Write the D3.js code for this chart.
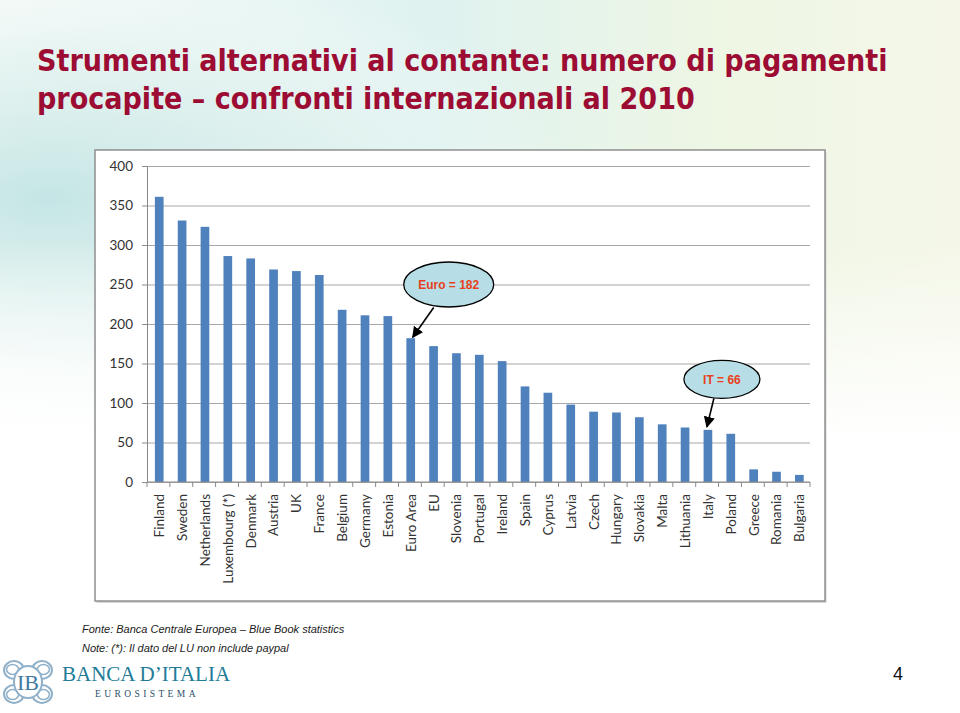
<!DOCTYPE html>
<html>
<head>
<meta charset="utf-8">
<script src="https://cdn.jsdelivr.net/npm/d3@7/dist/d3.min.js"></script>
<style>
  html, body { margin: 0; padding: 0; background: #ffffff; }
  svg { display: block; }
</style>
</head>
<body>
<svg id="chart" width="960" height="713"></svg>
<script>
// ---- Data ----
const categories = ["Finland","Sweden","Netherlands","Luxembourg (*)","Denmark","Austria","UK","France","Belgium","Germany","Estonia","Euro Area","EU","Slovenia","Portugal","Ireland","Spain","Cyprus","Latvia","Czech","Hungary","Slovakia","Malta","Lithuania","Italy","Poland","Greece","Romania","Bulgaria"];
const values = [361,331,323,286,283,269,267,262,218,211,210,182,172,163,161,153,121,113,98,89,88,82,73,69,66,61,16,13,9];
const yTicks = [0,50,100,150,200,250,300,350,400];
const titleLines = ["Strumenti alternativi al contante: numero di pagamenti", "procapite \u2013 confronti internazionali al 2010"];
const calloutCategories = ["Euro Area", "Italy"];
const calloutLabels = ["Euro = 182", "IT = 66"];
const calloutLevels = [250, 130];
const footnotes = ["Fonte: Banca Centrale Europea \u2013 Blue Book statistics", "Note: (*): Il dato del LU non include paypal"];

const svg = d3.select("#chart");
const W = 960, H = 713;

// ---- Background (slide) ----
const defs = svg.append("defs");
const gLeft = defs.append("radialGradient").attr("id","bgL").attr("cx","0.05").attr("cy","0.45").attr("r","0.55");
gLeft.append("stop").attr("offset","0").attr("stop-color","#bfe3e3").attr("stop-opacity",0.9);
gLeft.append("stop").attr("offset","0.6").attr("stop-color","#dff1ee").attr("stop-opacity",0.6);
gLeft.append("stop").attr("offset","1").attr("stop-color","#ffffff").attr("stop-opacity",0);
const gTop = defs.append("linearGradient").attr("id","bgT").attr("x1","0").attr("x2","1").attr("y1","0").attr("y2","0");
gTop.append("stop").attr("offset","0").attr("stop-color","#f4faf8");
gTop.append("stop").attr("offset","0.45").attr("stop-color","#dff2f0");
gTop.append("stop").attr("offset","0.75").attr("stop-color","#eef6e4");
gTop.append("stop").attr("offset","1").attr("stop-color","#f4f7e8");
const gFade = defs.append("linearGradient").attr("id","bgFade").attr("x1","0").attr("x2","0").attr("y1","0").attr("y2","1");
gFade.append("stop").attr("offset","0").attr("stop-color","#fff").attr("stop-opacity",0);
gFade.append("stop").attr("offset","0.55").attr("stop-color","#fff").attr("stop-opacity",0);
gFade.append("stop").attr("offset","1").attr("stop-color","#fff").attr("stop-opacity",1);

svg.append("rect").attr("width",W).attr("height",H).attr("fill","#ffffff");
svg.append("rect").attr("x",0).attr("y",0).attr("width",W).attr("height",440).attr("fill","url(#bgT)");
svg.append("rect").attr("x",0).attr("y",0).attr("width",W).attr("height",440).attr("fill","url(#bgL)");
svg.append("rect").attr("x",0).attr("y",0).attr("width",W).attr("height",440).attr("fill","url(#bgFade)");

// ---- Title (font size fitted to the reference width) ----
const titleG = svg.append("g");
const titleTarget = 851;
const tmp = titleG.append("text")
  .style("font-family", "'Liberation Sans Narrow','DejaVu Sans Condensed','DejaVu Sans',sans-serif")
  .style("font-size","100px").style("font-weight","bold")
  .text(titleLines[0]);
const natural = tmp.node().getComputedTextLength();
tmp.remove();
const titleSize = Math.min(36, 100 * titleTarget / natural);
titleLines.forEach((t, i) => {
  titleG.append("text")
    .attr("x", 37).attr("y", 71 + i * 38)
    .style("font-family", "'Liberation Sans Narrow','DejaVu Sans Condensed','DejaVu Sans',sans-serif")
    .style("font-size", titleSize + "px").style("font-weight","bold")
    .style("fill","#9c0c33")
    .text(t);
});

// ---- Chart frame ----
svg.append("rect").attr("x",96.5).attr("y",152).attr("width",730).attr("height",451).attr("fill","#d6d6d6");
svg.append("rect").attr("x",95).attr("y",150).attr("width",730).attr("height",451)
  .attr("fill","#ffffff").attr("stroke","#8f8f8f").attr("stroke-width",1.5);

// ---- Scales ----
const plot = {left:147, right:810, top:166, bottom:482};
const x = d3.scaleBand().domain(categories).range([plot.left, plot.right]).paddingInner(0.62).paddingOuter(0.31);
const y = d3.scaleLinear().domain([0,400]).range([plot.bottom, plot.top]);

// gridlines
const g = svg.append("g");
g.append("g").attr("class","grid")
  .attr("transform",`translate(${plot.left},0)`)
  .call(d3.axisLeft(y).tickValues(yTicks).tickSize(-(plot.right-plot.left)).tickFormat(""))
  .call(s => s.select(".domain").remove())
  .call(s => s.selectAll("line").attr("stroke","#a8a8a8").attr("stroke-width",1.2));

// y axis
g.append("g")
  .attr("transform",`translate(${plot.left},0)`)
  .call(d3.axisLeft(y).tickValues(yTicks).tickSize(5).tickPadding(9))
  .call(s => s.select(".domain").attr("stroke","#8a8a8a"))
  .call(s => s.selectAll("line").attr("stroke","#8a8a8a"))
  .call(s => s.selectAll("text").style("font-family","Lato, 'Open Sans', sans-serif").style("font-size","13.5px").attr("fill","#333"));

// bars
g.append("g").selectAll("rect").data(values).join("rect")
  .attr("x",(d,i)=>x(categories[i]) + 0.8)
  .attr("y",d=>y(d))
  .attr("width",x.bandwidth())
  .attr("height",d=>y(0)-y(d))
  .attr("fill","#4f81bd");

// x axis line and ticks at band boundaries
const xAxisG = g.append("g");
xAxisG.append("line").attr("x1",plot.left).attr("x2",plot.right).attr("y1",y(0)).attr("y2",y(0))
  .attr("stroke","#8a8a8a").attr("stroke-width",1.2);
const boundaries = d3.range(categories.length + 1).map(i => plot.left + i * x.step());
xAxisG.selectAll("line.tk").data(boundaries).join("line").attr("class","tk")
  .attr("x1",d=>d).attr("x2",d=>d).attr("y1",y(0)).attr("y2",y(0)+5)
  .attr("stroke","#8a8a8a");

// x labels
xAxisG.selectAll("text").data(categories).join("text")
  .attr("transform",d=>`translate(${x(d)+x.bandwidth()/2+1},${y(0)+12}) rotate(-90)`)
  .attr("dy","0.35em")
  .attr("text-anchor","end")
  .style("font-family","Lato, 'Open Sans', sans-serif").style("font-size","13.5px").attr("fill","#333")
  .text(d=>d);

// ---- Callouts ----
defs.append("marker").attr("id","arr").attr("viewBox","0 0 10 10").attr("refX",9).attr("refY",5)
  .attr("markerWidth",7).attr("markerHeight",7).attr("orient","auto-start-reverse")
  .append("path").attr("d","M0,0 L10,5 L0,10 z").attr("fill","#000");

const calloutGeom = [
  {dx: 38, rx: 45, ry: 22.5, tipDx: 2, tipDy: -1, tailDx: -15, tailDy: 23},
  {dx: 14, rx: 38, ry: 19, tipDx: -1, tipDy: -3, tailDx: -8, tailDy: 19}
];
calloutCategories.forEach((c, i) => {
  const v = values[categories.indexOf(c)];
  const gm = calloutGeom[i];
  const cxc = x(c) + x.bandwidth()/2 + 0.8;
  const ex = cxc + gm.dx, ey = y(calloutLevels[i]);
  const tipX = cxc + gm.tipDx, tipY = y(v) + gm.tipDy;
  const cg = svg.append("g");
  cg.append("line").attr("x1", ex + gm.tailDx).attr("y1", ey + gm.tailDy)
    .attr("x2", tipX).attr("y2", tipY)
    .attr("stroke","#000").attr("stroke-width",1.6).attr("marker-end","url(#arr)");
  cg.append("ellipse").attr("cx",ex).attr("cy",ey).attr("rx",gm.rx).attr("ry",gm.ry)
    .attr("fill","#b7dee6").attr("stroke","#000").attr("stroke-width",1.3);
  cg.append("text").attr("x",ex).attr("y",ey).attr("dy","0.35em").attr("text-anchor","middle")
    .style("font-family","'Liberation Sans', Arial, sans-serif").style("font-size","12px").style("font-weight","bold")
    .attr("fill","#e8401c").text(calloutLabels[i]);
});

// ---- Footnotes ----
footnotes.forEach((t,i) => {
  svg.append("text").attr("x",82).attr("y",633 + i*19)
    .style("font-family","'Liberation Sans', Arial, sans-serif").style("font-size","11px").style("font-style","italic")
    .attr("fill","#222").text(t);
});

// ---- Logo ----
const logo = svg.append("g").attr("transform","translate(28,682)");
const orn = "#8fb0c8";
[[-14,-12],[14,-12],[-14,12],[14,12]].forEach(([a,b])=>{
  logo.append("ellipse").attr("cx",a).attr("cy",b).attr("rx",10).attr("ry",9).attr("fill","none").attr("stroke",orn).attr("stroke-width",2);
  logo.append("ellipse").attr("cx",a*1.1).attr("cy",b*1.05).attr("rx",6).attr("ry",5).attr("fill","none").attr("stroke",orn).attr("stroke-width",1.5);
});
logo.append("ellipse").attr("cx",0).attr("cy",0).attr("rx",14).attr("ry",16).attr("fill","#ffffff").attr("stroke",orn).attr("stroke-width",2);
logo.append("text").attr("x",0).attr("y",8).attr("text-anchor","middle")
  .style("font-family","'Liberation Serif', serif").style("font-size","22px").attr("fill","#3f7aa3").text("IB");
svg.append("text").attr("x",62).attr("y",681)
  .style("font-family","'Liberation Serif','DejaVu Serif', serif").style("font-size","21px")
  .attr("fill","#227c98").text("BANCA D\u2019ITALIA");
svg.append("text").attr("x",95).attr("y",697)
  .style("font-family","'Liberation Serif', serif").style("font-size","9.5px").style("letter-spacing","3.4px")
  .attr("fill","#2a4f6b").text("EUROSISTEMA");

// page number
svg.append("text").attr("x",893).attr("y",680)
  .style("font-family","'Liberation Sans', Arial, sans-serif").style("font-size","18px").attr("fill","#111").text("4");
</script>
</body>
</html>
